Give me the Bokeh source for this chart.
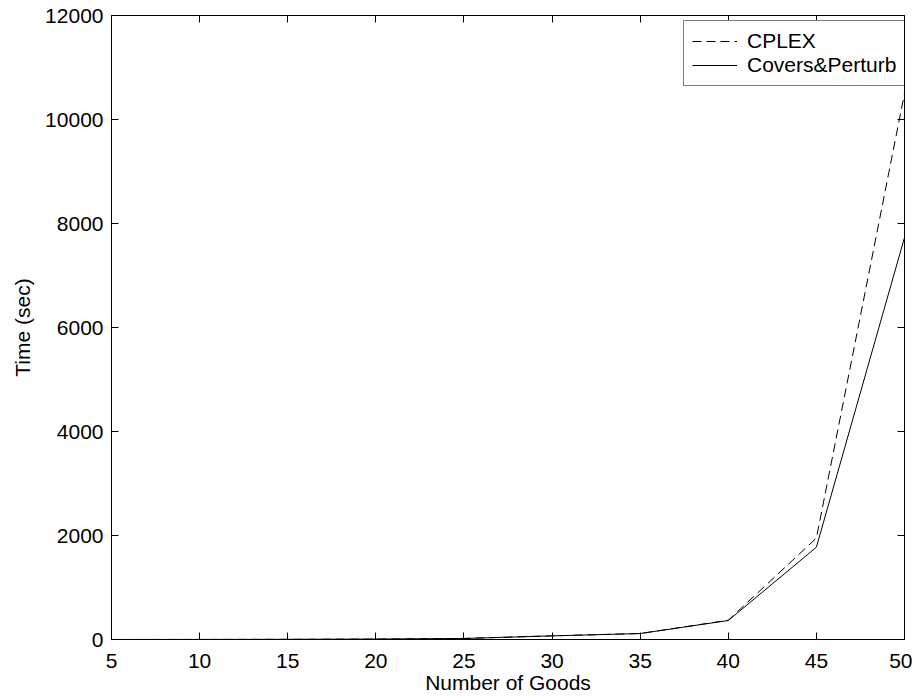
from bokeh.plotting import figure
from bokeh.models import Range1d, LinearAxis, FixedTicker, Legend, LegendItem
from bokeh.embed import file_html
from bokeh.resources import INLINE

# Data
goods = [5, 10, 15, 20, 25, 30, 35, 40, 45, 50]
cplex = [0.5, 1, 3, 8, 20, 70, 115, 370, 1950, 10500]
covers = [0.5, 1, 3, 8, 20, 70, 115, 365, 1775, 7730]
x_ticks = [5, 10, 15, 20, 25, 30, 35, 40, 45, 50]
y_ticks = [0, 2000, 4000, 6000, 8000, 10000, 12000]

FONT = "Liberation Sans"
FS = "21px"

p = figure(width=912, height=698, output_backend="svg", toolbar_location=None,
           x_range=Range1d(5, 50), y_range=Range1d(0, 12000),
           min_border_left=111, min_border_right=8, min_border_top=15, min_border_bottom=59,
           x_axis_label="Number of Goods", y_axis_label="Time (sec)")
p.xgrid.visible = False
p.ygrid.visible = False
p.outline_line_color = "black"
p.outline_line_width = 1
p.background_fill_color = "white"
p.border_fill_color = "white"

def style_axis(ax, ticks, show_labels=True):
    ax.ticker = FixedTicker(ticks=ticks)
    ax.major_tick_in = 7
    ax.major_tick_out = 0
    ax.minor_tick_line_color = None
    ax.axis_line_color = "black"
    ax.major_tick_line_color = "black"
    ax.major_label_text_font = FONT
    ax.axis_label_text_font = FONT
    ax.axis_label_text_font_size = FS
    ax.axis_label_text_font_style = "normal"
    ax.axis_label_text_color = "black"
    if show_labels:
        ax.major_label_text_font_size = FS
        ax.major_label_text_color = "black"
    else:
        ax.major_label_text_color = None
        ax.major_label_text_alpha = 0
        ax.major_label_text_font_size = "1px"
        ax.major_label_standoff = 0

style_axis(p.xaxis[0], x_ticks)
style_axis(p.yaxis[0], y_ticks)
p.xaxis[0].major_label_standoff = 14
p.xaxis[0].axis_label_standoff = 0
p.yaxis[0].major_label_standoff = 8
p.yaxis[0].axis_label_standoff = 8

top_ax = LinearAxis()
style_axis(top_ax, x_ticks, show_labels=False)
p.add_layout(top_ax, "above")
right_ax = LinearAxis()
style_axis(right_ax, y_ticks, show_labels=False)
p.add_layout(right_ax, "right")

r1 = p.line(goods, cplex, line_color="black", line_width=1, line_dash="9 5")
r2 = p.line(goods, covers, line_color="black", line_width=1)

legend = Legend(items=[LegendItem(label="CPLEX", renderers=[r1]),
                       LegendItem(label="Covers&Perturb", renderers=[r2])],
                location=(572, 553))
legend.label_text_font = FONT
legend.label_text_font_size = FS
legend.label_text_color = "black"
legend.border_line_color = "black"
legend.border_line_width = 1
legend.background_fill_alpha = 1
legend.glyph_width = 45
legend.glyph_height = 24
legend.label_height = 24
legend.label_standoff = 10
legend.spacing = 0
legend.padding = 8
legend.margin = 0
p.add_layout(legend)

open("out.html", "w").write(file_html(p, INLINE))
